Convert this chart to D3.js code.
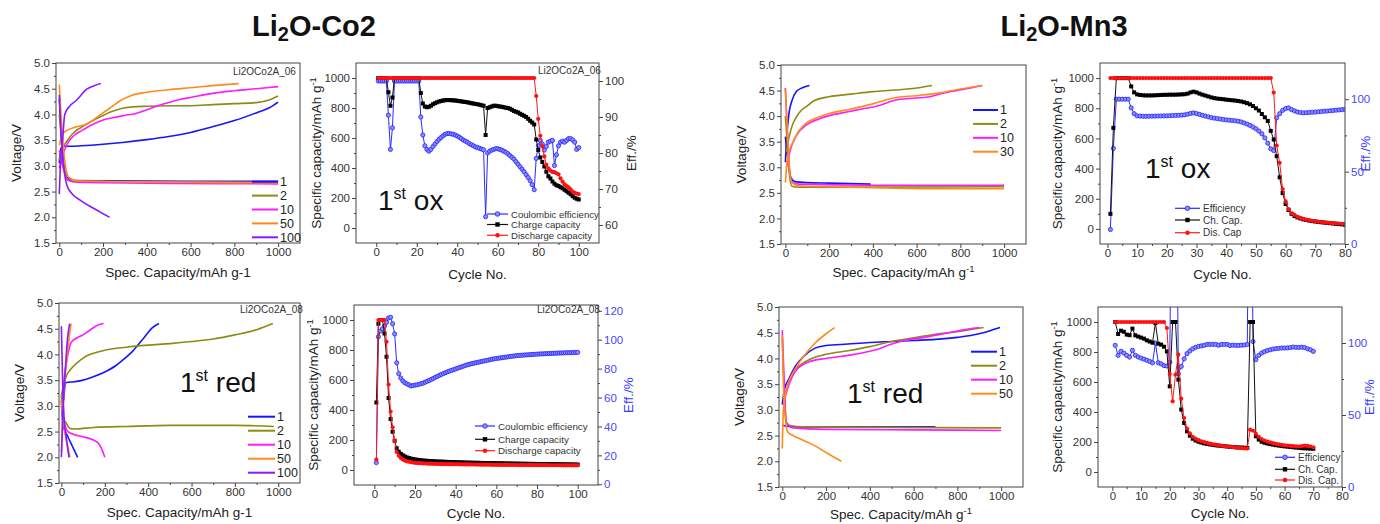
<!DOCTYPE html>
<html><head><meta charset="utf-8">
<script src="https://cdn.jsdelivr.net/npm/d3@7"></script>
<style>body{margin:0;background:#fff} svg{display:block}</style>
</head><body><script>
// ================= DATA =================
const voltTicks=[1.5,2.0,2.5,3.0,3.5,4.0,4.5,5.0];
const capXTicks=[0,200,400,600,800,1000];
const capYTicks=[0,200,400,600,800,1000];
const cycTicks100=[0,20,40,60,80,100];
const cycTicks80=[0,10,20,30,40,50,60,70,80];
const effTicksCo2Ox=[60,70,80,90,100];
const effTicksMn3=[0,50,100];
const effTicksCo2Red=[0,20,40,60,80,100,120];

// Li2O-Co2, 1st ox : voltage profiles [capacity, voltage]
const co2OxCycles=["1","2","10","50","100"];
const co2OxC1Ch=[[0,3.05],[5,3.3],[15,3.38],[50,3.38],[100,3.39],[200,3.42],[300,3.46],[400,3.51],[500,3.57],[600,3.65],[700,3.76],[800,3.88],[900,4.03],[960,4.13],[1000,4.24]];
const co2OxC1Dis=[[0,4.3],[10,3.6],[20,3.0],[35,2.78],[60,2.72],[200,2.71],[600,2.70],[1000,2.70]];
const co2OxC2Ch=[[0,3.1],[10,3.3],[30,3.45],[60,3.62],[120,3.8],[200,3.98],[250,4.07],[300,4.13],[400,4.16],[500,4.17],[600,4.17],[700,4.19],[800,4.21],[900,4.23],[950,4.27],[1000,4.36]];
const co2OxC2Dis=[[0,4.0],[10,3.5],[25,2.9],[40,2.73],[80,2.7],[1000,2.68]];
const co2OxC10Ch=[[0,2.95],[15,3.2],[40,3.45],[70,3.6],[100,3.68],[150,3.8],[200,3.89],[250,3.94],[300,3.98],[350,4.02],[400,4.09],[450,4.17],[500,4.23],[550,4.29],[600,4.33],[700,4.41],[800,4.46],[900,4.5],[1000,4.54]];
const co2OxC10Dis=[[0,3.3],[15,3.0],[40,2.72],[80,2.68],[500,2.66],[1000,2.65]];
const co2OxC50Ch=[[0,3.4],[15,3.62],[40,3.7],[80,3.76],[130,3.82],[180,3.97],[230,4.12],[280,4.27],[330,4.37],[400,4.43],[500,4.48],[600,4.52],[700,4.56],[820,4.6]];
const co2OxC50Dis=[[0,4.58],[8,4.0],[18,3.4],[30,2.95],[45,2.77],[80,2.71],[300,2.69],[1000,2.67]];
const co2OxC100Ch=[[0,2.45],[5,3.0],[15,3.5],[25,4.0],[45,4.15],[80,4.28],[125,4.49],[160,4.56],[190,4.6]];
const co2OxC100Dis=[[0,4.38],[8,3.6],[20,3.0],[35,2.62],[60,2.45],[100,2.32],[150,2.19],[200,2.07],[230,2.0]];

// Li2O-Mn3, 1st ox
const mn3OxCycles=["1","2","10","30"];
const mn3OxC1Ch=[[0,3.1],[8,3.7],[18,4.1],[30,4.3],[50,4.48],[75,4.55],[110,4.6]];
const mn3OxC1Dis=[[0,3.6],[10,3.2],[25,2.8],[45,2.72],[100,2.7],[200,2.69],[390,2.67]];
const mn3OxC2Ch=[[5,3.3],[15,3.55],[30,3.8],[50,3.98],[70,4.1],[100,4.2],[130,4.3],[200,4.38],[300,4.43],[400,4.48],[500,4.51],[600,4.55],[670,4.6]];
const mn3OxC2Dis=[[0,4.0],[10,3.4],[20,2.8],[30,2.63],[60,2.61],[1000,2.62]];
const mn3OxC10Ch=[[5,3.0],[20,3.3],[50,3.62],[100,3.84],[150,3.94],[200,4.01],[280,4.08],[350,4.14],[430,4.21],[500,4.31],[550,4.34],[660,4.38],[720,4.45],[810,4.52],[900,4.6]];
const mn3OxC10Dis=[[0,4.55],[8,3.8],[18,3.0],[30,2.72],[60,2.67],[400,2.65],[1000,2.65]];
const mn3OxC30Ch=[[0,2.7],[10,3.2],[30,3.45],[60,3.7],[100,3.88],[150,3.98],[200,4.05],[300,4.14],[400,4.24],[500,4.36],[600,4.4],[700,4.45],[800,4.53],[900,4.6]];
const mn3OxC30Dis=[[0,4.52],[8,3.8],[18,3.0],[30,2.7],[60,2.64],[200,2.62],[400,2.6],[700,2.58],[1000,2.58]];

// Li2O-Co2, 1st red
const co2RedCycles=["1","2","10","50","100"];
const co2RedC1Ch=[[10,3.1],[20,3.45],[60,3.47],[100,3.5],[150,3.57],[200,3.66],[250,3.78],[280,3.88],[330,4.07],[380,4.32],[420,4.52],[450,4.6]];
const co2RedC1Dis=[[0,3.1],[8,2.62],[30,2.4],[50,2.22],[75,2.0]];
const co2RedC2Ch=[[0,3.2],[10,3.4],[25,3.6],[45,3.72],[100,3.93],[200,4.08],[300,4.14],[400,4.18],[500,4.21],[600,4.25],[700,4.3],[800,4.38],[900,4.48],[975,4.6]];
const co2RedC2Dis=[[0,3.2],[8,2.75],[20,2.68],[40,2.56],[60,2.55],[150,2.58],[300,2.6],[500,2.62],[800,2.62],[980,2.6]];
const co2RedC10Ch=[[5,3.1],[15,3.6],[30,4.0],[45,4.23],[70,4.32],[100,4.38],[140,4.5],[175,4.58],[195,4.6]];
const co2RedC10Dis=[[0,3.0],[15,2.65],[30,2.5],[60,2.44],[100,2.4],[145,2.34],[175,2.25],[190,2.12],[200,2.0]];
const co2RedC50Ch=[[0,2.1],[8,3.0],[20,3.7],[35,4.3],[45,4.6]];
const co2RedC50Dis=[[0,3.1],[15,2.5],[30,2.2],[40,2.0]];
const co2RedC100Ch=[[0,2.0],[8,3.0],[18,3.7],[28,4.3],[38,4.6]];
const co2RedC100Dis=[[0,4.55],[5,3.6],[12,2.8],[22,2.4],[35,2.0]];

// Li2O-Mn3, 1st red
const mn3RedCycles=["1","2","10","50"];
const mn3RedC1Ch=[[0,3.1],[10,3.4],[30,3.6],[60,3.85],[100,4.05],[150,4.2],[200,4.25],[300,4.28],[400,4.31],[500,4.33],[600,4.35],[700,4.37],[800,4.41],[900,4.48],[950,4.54],[995,4.6]];
const mn3RedC1Dis=[[0,2.7],[50,2.67],[700,2.67]];
const mn3RedC2Ch=[[5,3.2],[20,3.4],[60,3.77],[120,3.97],[200,4.08],[300,4.15],[400,4.23],[500,4.33],[600,4.4],[700,4.47],[800,4.52],[920,4.6]];
const mn3RedC2Dis=[[0,4.4],[10,3.3],[20,2.75],[40,2.69],[100,2.67],[1000,2.65]];
const mn3RedC10Ch=[[5,3.1],[20,3.35],[60,3.75],[120,3.93],[200,4.0],[300,4.06],[400,4.14],[450,4.2],[500,4.28],[550,4.34],[650,4.41],[750,4.49],[850,4.57],[900,4.6]];
const mn3RedC10Dis=[[0,4.55],[8,3.6],[18,2.75],[50,2.65],[200,2.62],[600,2.61],[1000,2.6]];
const mn3RedC50Ch=[[0,2.25],[5,3.0],[20,3.4],[60,3.8],[100,4.05],[150,4.3],[200,4.48],[240,4.6]];
const mn3RedC50Dis=[[0,4.45],[5,3.5],[15,2.8],[25,2.57],[50,2.5],[100,2.4],[150,2.3],[200,2.17],[270,2.0]];

// Cycling data (index = cycle number - 1)
const co2OxCharge=[1000,1000,1000,1000,1000,905,815,870,1000,1000,
1000,1000,1000,1000,1000,1000,1000,1000,1000,1000,
1000,900,830,810,805,808,815,825,832,838,
843,847,850,852,853,853,852,851,850,848,
846,844,842,840,838,835,832,830,827,825,
822,818,815,620,800,805,810,815,815,812,
810,808,805,802,800,795,788,780,775,770,
762,755,748,740,728,715,703,690,590,520,
470,440,410,375,345,330,310,295,285,280,
272,265,255,245,235,225,212,202,195,190];
const co2OxDischarge=[1000,1000,1000,1000,1000,1000,1000,1000,1000,1000,
1000,1000,1000,1000,1000,1000,1000,1000,1000,1000,
1000,1000,1000,1000,1000,1000,1000,1000,1000,1000,
1000,1000,1000,1000,1000,1000,1000,1000,1000,1000,
1000,1000,1000,1000,1000,1000,1000,1000,1000,1000,
1000,1000,1000,1000,1000,1000,1000,1000,1000,1000,
1000,1000,1000,1000,1000,1000,1000,1000,1000,1000,
1000,1000,1000,1000,1000,1000,1000,1000,880,727,
615,544,477,421,398,383,374,372,365,358,
331,309,291,280,271,257,242,235,230,226];
const co2OxCE=[100,100,100,100,100,90.5,81,87,100,100,
100,100,100,100,100,100,100,100,100,100,
100,90,85,82,81,80.5,81,81.8,82.5,83.2,
83.8,84.3,84.8,85.2,85.4,85.4,85.3,85.2,85,84.7,
84.4,84,83.6,83.3,83,82.6,82.3,82,81.7,81.5,
81.3,81.1,80.9,62.3,80,80.5,80.8,81,81.2,81.2,
81,80.8,80.5,80.2,79.8,79.3,78.8,78.3,77.6,76.9,
76.2,75.5,74.8,74,73.2,72.3,71.2,69.8,78.5,82,
83.5,82.5,80.8,81.8,83,83.3,83.5,76.5,79.5,82,
83,83.3,83,83.5,84,84,83.6,83,81,81.5];

const mn3OxCharge=[100,670,1000,1000,1000,1000,1000,945,905,892,
888,886,885,885,885,886,887,888,889,889,
890,890,890,891,892,893,897,905,910,905,
897,890,884,878,872,867,864,862,860,857,
855,853,851,848,845,840,834,826,815,800,
785,762,740,716,650,593,482,342,238,165,
125,100,85,76,69,63,59,55,52,49,
46,44,42,40,38,36,34,32,30,28];
const mn3OxDischarge=[1000,1000,1000,1000,1000,1000,1000,1000,1000,1000,
1000,1000,1000,1000,1000,1000,1000,1000,1000,1000,
1000,1000,1000,1000,1000,1000,1000,1000,1000,1000,
1000,1000,1000,1000,1000,1000,1000,1000,1000,1000,
1000,1000,1000,1000,1000,1000,1000,1000,1000,1000,
1000,1000,1000,1000,1000,904,553,438,264,182,
131,104,93,80,72,66,61,57,54,51,
48,46,44,42,40,38,37,36,34,33];
const mn3OxCE=[10,66,100,100,100,100,100,94,90,88.5,
88.3,88.2,88.2,88.2,88.3,88.3,88.4,88.4,88.5,88.5,
88.6,88.7,88.8,88.9,89,89.2,89.6,90.2,90.5,90.1,
89.5,88.9,88.3,87.8,87.3,86.9,86.6,86.3,86,85.7,
85.5,85.3,85.1,84.8,84.3,83.6,82.8,81.9,80.8,79.6,
78,76.1,73.3,69.6,65.7,64.5,87.2,90,92.3,93.5,
94,92.8,91.9,91.2,90.8,90.6,90.7,90.8,91,91.1,
91.3,91.5,91.7,91.8,92,92.2,92.4,92.6,92.8,93];

const co2RedCharge=[450,975,1000,1000,910,755,480,340,255,195,
145,122,108,98,90,84,80,76,73,70,
68,66,64,63,62,61,60,59,58,57,
56.5,56,55.5,55,54.5,54,53.5,53,52.5,52,
51.5,51,50.5,50,49.5,49,48.8,48.5,48.2,48,
47.7,47.4,47.1,46.8,46.5,46.2,46,45.7,45.4,45.1,
44.8,44.5,44.2,44,43.7,43.4,43.1,42.8,42.5,42.2,
42,41.8,41.6,41.4,41.2,41,40.8,40.6,40.4,40.2,
40,39.8,39.6,39.4,39.2,39,38.8,38.6,38.4,38.2,
38,37.8,37.6,37.4,37.2,37,36.8,36.6,36.4,36.2];
const co2RedDischarge=[70,1000,1000,1000,1000,855,570,390,285,195,
120,95,80,70,63,58,55,52,50,48,
47,46,45,44,43.5,43,42.5,42,41.5,41,
40.5,40,39.8,39.6,39.4,39.2,39,38.8,38.6,38.4,
38.2,38,37.8,37.6,37.4,37.2,37,36.8,36.6,36.4,
36.2,36,35.8,35.6,35.4,35.2,35,34.8,34.6,34.4,
34.2,34,33.9,33.8,33.7,33.6,33.5,33.4,33.3,33.2,
33.1,33,32.9,32.8,32.7,32.6,32.5,32.4,32.3,32.2,
32.1,32,32,31.9,31.9,31.8,31.8,31.7,31.7,31.6,
31.6,31.5,31.5,31.4,31.4,31.3,31.3,31.2,31.2,31.1];
const co2RedCE=[15,102,106,107.5,109.5,112,115,115.5,111,104,
84,76.5,73.5,71.5,70.2,69.5,68.8,68,68.3,68.6,
68.8,69.2,69.6,70,70.6,71.2,71.8,72.5,73.2,74,
74.6,75.3,76,76.6,77.2,77.8,78.3,78.8,79.3,79.8,
80.3,80.8,81.3,81.8,82.3,82.7,83.1,83.5,83.8,84.1,
84.4,84.7,85,85.3,85.6,85.9,86.2,86.5,86.8,87,
87.2,87.4,87.6,87.8,88,88.2,88.4,88.6,88.8,89,
89.1,89.2,89.3,89.4,89.5,89.6,89.7,89.8,89.9,90,
90.1,90.2,90.2,90.3,90.4,90.4,90.5,90.6,90.6,90.7,
90.8,90.8,90.9,90.9,91,91,91.1,91.1,91.2,91.2];

const mn3RedCharge=[1000,920,942,935,916,912,956,911,903,896,
889,878,870,862,993,855,849,835,804,571,
1000,1000,616,416,327,271,242,222,210,202,
196,191,187,184,181,178,176,174,172,170,
168,167,165,164,163,162,160,1000,1000,238,
216,202,195,190,186,182,179,176,173,171,
169,167,165,163,161,159,158,157,156,155];
const mn3RedDischarge=[1000,1000,1000,1000,1000,1000,1000,1000,1000,1000,
1000,1000,1000,1000,1000,1000,1000,1000,960,653,
471,649,782,489,360,290,258,235,222,212,
205,199,194,189,185,182,178,175,172,170,
168,166,163,161,159,157,156,282,275,255,
235,220,210,203,197,192,188,184,181,178,
176,174,172,171,170,172,176,174,170,165];
const mn3RedCE=[98.4,91.4,94.2,93,91.4,90.2,94.9,91.5,90.3,89.5,
88.8,88,87.2,86.2,100,86.3,85.5,84.3,84,86.7,
300,300,78.6,83.7,89,92.6,94.5,96,97,97.6,
98,98.4,99,99,99,99,98.5,99,99,99,
98.2,98.5,98.3,98.3,98.5,98.6,99,300,101,88.4,
91.4,93,94,94.8,95.3,95.8,96.1,96.3,96.5,96.5,
96.6,96.8,97.2,97,96.9,97.1,96.8,96,95.3,94.2];

// ================= DRAWING =================
const FONT='"Liberation Sans", Arial, Helvetica, sans-serif';
const AX='#444', TXT='#333', BLUEAX='#4848ff';
const COL={"1":"#1515ff","2":"#8c8c14","10":"#ff1aff","30":"#ff8a1a","50":"#ff8a1a","100":"#8a1aff"};
const svg=d3.select("body").append("svg").attr("width",1380).attr("height",524);
let clipN=0;

function mkClip(f){
  const id="clip"+(clipN++);
  svg.append("clipPath").attr("id",id).append("rect")
    .attr("x",f.l).attr("y",f.t).attr("width",f.r-f.l).attr("height",f.b-f.t);
  return "url(#"+id+")";
}
function addAxis(scale,orient,pos,major,minor,fmt,color){
  const gen=orient==="left"?d3.axisLeft:orient==="right"?d3.axisRight:d3.axisBottom;
  const tr=orient==="bottom"?`translate(0,${pos})`:`translate(${pos},0)`;
  const a=svg.append("g").attr("transform",tr)
    .call(gen(scale).tickValues(major).tickSize(4).tickSizeOuter(0).tickPadding(orient==="bottom"?1:2).tickFormat(fmt));
  a.select(".domain").remove();
  a.selectAll("line").attr("stroke",AX);
  a.selectAll("text").attr("fill",color||TXT).style("font-size","11.5px").style("font-family",FONT);
  if(minor){
    const m=svg.append("g").attr("transform",tr)
      .call(gen(scale).tickValues(minor).tickSize(2).tickSizeOuter(0).tickFormat(""));
    m.select(".domain").remove(); m.selectAll("line").attr("stroke",AX);
  }
}
function box(f){
  svg.append("rect").attr("x",f.l).attr("y",f.t).attr("width",f.r-f.l).attr("height",f.b-f.t)
    .attr("fill","none").attr("stroke",AX).attr("stroke-width",1);
}
function txt(x,y,s,fs,color,anchor){
  return svg.append("text").attr("x",x).attr("y",y).text(s).attr("fill",color||TXT)
    .attr("text-anchor",anchor||"start").style("font-size",fs+"px").style("font-family",FONT);
}
function vtitle(x,y,main,sup,color,fs){
  const t=svg.append("text").attr("transform",`translate(${x},${y}) rotate(-90)`).attr("text-anchor","middle")
    .attr("fill",color||"#222").style("font-size",fs+"px").style("font-family",FONT);
  t.append("tspan").text(main);
  if(sup) t.append("tspan").text(sup).attr("dy",-5).style("font-size",(fs*0.7)+"px");
}
function htitle(x,y,main,sup,fs){
  const t=svg.append("text").attr("x",x).attr("y",y).attr("text-anchor","middle")
    .attr("fill","#222").style("font-size",fs+"px").style("font-family",FONT);
  t.append("tspan").text(main);
  if(sup) t.append("tspan").text(sup).attr("dy",-5).style("font-size",(fs*0.7)+"px");
}
function bigLabel(x,y,sup,word){
  const t=svg.append("text").attr("x",x).attr("y",y).attr("fill","#111").style("font-size","28px").style("font-family",FONT);
  t.append("tspan").text("1");
  t.append("tspan").text(sup).attr("dy",-11).style("font-size","16px");
  t.append("tspan").text(word).attr("dy",11);
}

function voltagePanel(f,xd,curves,leg,xTitle,xSup,sample,xTitleY){
  const x=d3.scaleLinear().domain(xd).range([f.l,f.r]);
  const y=d3.scaleLinear().domain([1.5,5.0]).range([f.b,f.t]);
  const clip=mkClip(f);
  const line=d3.line().x(d=>x(d[0])).y(d=>y(d[1])).curve(d3.curveMonotoneX);
  const g=svg.append("g").attr("clip-path",clip);
  curves.forEach(c=>{
    [c.dis,c.ch].forEach(arr=>{
      g.append("path").datum(arr).attr("d",line).attr("fill","none")
        .attr("stroke",COL[c.name]).attr("stroke-width",1.6);
    });
  });
  addAxis(x,"bottom",f.b,capXTicks,[100,300,500,700,900],d3.format("d"));
  addAxis(y,"left",f.l,voltTicks,[1.75,2.25,2.75,3.25,3.75,4.25,4.75],d3.format(".1f"));
  box(f);
  curves.forEach((c,i)=>{
    const yy=leg.y0+i*leg.dy;
    svg.append("line").attr("x1",leg.x1).attr("x2",leg.x2).attr("y1",yy).attr("y2",yy)
      .attr("stroke",COL[c.name]).attr("stroke-width",2);
    txt(leg.x2+2,yy+4.3,c.name,12.5,"#222");
  });
  vtitle(f.l-35,(f.t+f.b)/2,"Voltage/V",null,"#222",13.5);
  htitle((f.l+f.r)/2,xTitleY,xTitle,xSup,13.5);
  if(sample) txt(sample.x,sample.y,sample.s,10,"#333");
}

function sqSym(g,pts,x,y,color){
  g.selectAll(null).data(pts).enter().append("rect")
    .attr("x",d=>x(d[0])-2).attr("y",d=>y(d[1])-2).attr("width",4).attr("height",4).attr("fill",color);
}
function cirSym(g,pts,x,y,fill,stroke){
  g.selectAll(null).data(pts).enter().append("circle")
    .attr("cx",d=>x(d[0])).attr("cy",d=>y(d[1])).attr("r",2.1).attr("fill",fill)
    .attr("stroke",stroke||"none").attr("stroke-width",0.8);
}

function cyclePanel(o){
  const f=o.f;
  const x=d3.scaleLinear().domain(o.xd).range([f.l,f.r]);
  const y=d3.scaleLinear().domain([-100,1100]).range([f.b,f.t]);
  const yr=d3.scaleLinear().domain(o.rd).range([f.b,f.t]);
  const clip=mkClip(f);
  const g=svg.append("g").attr("clip-path",clip);
  const toPts=arr=>arr.map((v,i)=>[i+1,v]);
  const ce=toPts(o.ce), ch=toPts(o.ch), dis=toPts(o.dis);
  const lineL=d3.line().x(d=>x(d[0])).y(d=>y(d[1]));
  const lineR=d3.line().x(d=>x(d[0])).y(d=>yr(d[1]));
  g.append("path").datum(ce).attr("d",lineR).attr("fill","none").attr("stroke","#2b2bff").attr("stroke-width",1);
  cirSym(g,ce,x,yr,"#8c8cff","#2222ff");
  g.append("path").datum(ch).attr("d",lineL).attr("fill","none").attr("stroke","#111").attr("stroke-width",1);
  sqSym(g,ch,x,y,"#000");
  g.append("path").datum(dis).attr("d",lineL).attr("fill","none").attr("stroke","#ff1a1a").attr("stroke-width",1);
  cirSym(g,dis,x,y,"#ff1111");
  addAxis(x,"bottom",f.b,o.xt,o.xm,d3.format("d"));
  addAxis(y,"left",f.l,capYTicks,[100,300,500,700,900],d3.format("d"));
  addAxis(yr,"right",f.r,o.rt,o.rm,d3.format("d"),o.rColor);
  box(f);
  const L=o.leg;
  const items=[["ce",o.names[0]],["ch",o.names[1]],["dis",o.names[2]]];
  items.forEach((it,i)=>{
    const yy=L.ys[i], mx=(L.x1+L.x2)/2;
    const c=it[0]==="ce"?"#2b2bff":it[0]==="ch"?"#111":"#ff1a1a";
    svg.append("line").attr("x1",L.x1).attr("x2",L.x2).attr("y1",yy).attr("y2",yy).attr("stroke",c).attr("stroke-width",1.2);
    if(it[0]==="ch") svg.append("rect").attr("x",mx-2.2).attr("y",yy-2.2).attr("width",4.4).attr("height",4.4).attr("fill","#000");
    else svg.append("circle").attr("cx",mx).attr("cy",yy).attr("r",2.3)
      .attr("fill",it[0]==="ce"?"#8c8cff":"#ff1111").attr("stroke",it[0]==="ce"?"#2222ff":"none").attr("stroke-width",0.8);
    txt(L.x2+3,yy+3.5,it[1],L.fs,"#333");
  });
  vtitle(o.lt.x,(f.t+f.b)/2,"Specific capacity/mAh g","-1","#222",13.5);
  vtitle(o.rtl.x,(f.t+f.b)/2,"Eff./%",null,o.rTitleColor,13.5);
  htitle((f.l+f.r)/2,o.xTitleY,"Cycle No.",null,13.5);
  if(o.sample) txt(o.sample.x,o.sample.y,o.sample.s,10,"#333");
}

function mainTitle(cx,a,b){
  const t=svg.append("text").attr("x",cx).attr("y",36).attr("text-anchor","middle").attr("fill","#111")
    .style("font-size","29px").style("font-weight","bold").style("font-family",FONT);
  t.append("tspan").text(a);
  t.append("tspan").text("2").attr("dy",5).style("font-size","20px");
  t.append("tspan").text(b).attr("dy",-5);
}
mainTitle(314,"Li","O-Co2");
mainTitle(1064,"Li","O-Mn3");

// ---- Panel 1: Co2 ox voltage ----
voltagePanel({l:56,r:300,t:63,b:243},[-15,1100],[
  {name:"1",ch:co2OxC1Ch,dis:co2OxC1Dis},
  {name:"2",ch:co2OxC2Ch,dis:co2OxC2Dis},
  {name:"10",ch:co2OxC10Ch,dis:co2OxC10Dis},
  {name:"50",ch:co2OxC50Ch,dis:co2OxC50Dis},
  {name:"100",ch:co2OxC100Ch,dis:co2OxC100Dis}],
  {x1:252,x2:278,y0:181.7,dy:13.9},"Spec. Capacity/mAh g-1",null,{x:233,y:75,s:"Li2OCo2A_06"},277);

// ---- Panel 2: Co2 ox cycling ----
cyclePanel({f:{l:356,r:599,t:63,b:243},xd:[-10,110],rd:[55,105],
  ce:co2OxCE,ch:co2OxCharge,dis:co2OxDischarge,
  xt:cycTicks100,xm:[10,30,50,70,90],rt:effTicksCo2Ox,rm:[65,75,85,95],rColor:TXT,rTitleColor:"#222",
  leg:{x1:487,x2:508,ys:[214,224.5,235.3],fs:9.6},names:["Coulombic efficiency","Charge capacity","Discharge capacity"],
  lt:{x:321},rtl:{x:636},sample:{x:538,y:74,s:"Li2OCo2A_06"},xTitleY:279});
bigLabel(378,210,"st"," ox");

// ---- Panel 3: Mn3 ox voltage ----
voltagePanel({l:781,r:1026,t:65,b:244},[-20,1100],[
  {name:"1",ch:mn3OxC1Ch,dis:mn3OxC1Dis},
  {name:"2",ch:mn3OxC2Ch,dis:mn3OxC2Dis},
  {name:"10",ch:mn3OxC10Ch,dis:mn3OxC10Dis},
  {name:"30",ch:mn3OxC30Ch,dis:mn3OxC30Dis}],
  {x1:973,x2:998,y0:110,dy:13.9},"Spec. Capacity/mAh g","-1",null,277);

// ---- Panel 4: Mn3 ox cycling ----
cyclePanel({f:{l:1100,r:1345,t:63,b:244},xd:[-2.5,80],rd:[0,125],
  ce:mn3OxCE,ch:mn3OxCharge,dis:mn3OxDischarge,
  xt:cycTicks80,xm:[5,15,25,35,45,55,65,75],rt:effTicksMn3,rm:[25,75],rColor:BLUEAX,rTitleColor:"#3a3aff",
  leg:{x1:1175,x2:1200,ys:[208.3,220,232.7],fs:10},names:["Efficiency","Ch. Cap.","Dis. Cap"],
  lt:{x:1062},rtl:{x:1370},sample:null,xTitleY:279});
bigLabel(1145,178,"st"," ox");

// ---- Panel 5: Co2 red voltage ----
voltagePanel({l:59,r:300,t:303,b:483},[-11,1100],[
  {name:"1",ch:co2RedC1Ch,dis:co2RedC1Dis},
  {name:"2",ch:co2RedC2Ch,dis:co2RedC2Dis},
  {name:"10",ch:co2RedC10Ch,dis:co2RedC10Dis},
  {name:"50",ch:co2RedC50Ch,dis:co2RedC50Dis},
  {name:"100",ch:co2RedC100Ch,dis:co2RedC100Dis}],
  {x1:248,x2:275,y0:416.7,dy:14},"Spec. Capacity/mAh g-1",null,{x:240,y:313,s:"Li2OCo2A_08"},517);
bigLabel(180,392,"st"," red");

// ---- Panel 6: Co2 red cycling ----
cyclePanel({f:{l:354,r:598,t:305,b:485},xd:[-10,110],rd:[-0.5,124],
  ce:co2RedCE,ch:co2RedCharge,dis:co2RedDischarge,
  xt:cycTicks100,xm:[10,30,50,70,90],rt:effTicksCo2Red,rm:[10,30,50,70,90,110],rColor:BLUEAX,rTitleColor:"#3a3aff",
  leg:{x1:475,x2:495,ys:[426,439.3,450.7],fs:9.8},names:["Coulombic efficiency","Charge capacity","Discharge capacity"],
  lt:{x:318},rtl:{x:633},sample:{x:537,y:313,s:"Li2OCo2A_08"},xTitleY:518});

// ---- Panel 7: Mn3 red voltage ----
voltagePanel({l:779,r:1023,t:307,b:487},[-15,1100],[
  {name:"1",ch:mn3RedC1Ch,dis:mn3RedC1Dis},
  {name:"2",ch:mn3RedC2Ch,dis:mn3RedC2Dis},
  {name:"10",ch:mn3RedC10Ch,dis:mn3RedC10Dis},
  {name:"50",ch:mn3RedC50Ch,dis:mn3RedC50Dis}],
  {x1:971,x2:997,y0:351.7,dy:14},"Spec. Capacity/mAh g","-1",null,519);
bigLabel(847,403,"st"," red");

// ---- Panel 8: Mn3 red cycling ----
cyclePanel({f:{l:1098,r:1342,t:307,b:487},xd:[-5,80],rd:[0,125],
  ce:mn3RedCE,ch:mn3RedCharge,dis:mn3RedDischarge,
  xt:cycTicks80,xm:[5,15,25,35,45,55,65,75],rt:effTicksMn3,rm:[25,75],rColor:BLUEAX,rTitleColor:"#3a3aff",
  leg:{x1:1275,x2:1295,ys:[457.3,469.3,480],fs:10},names:["Efficiency","Ch. Cap.","Dis. Cap."],
  lt:{x:1062},rtl:{x:1374},sample:null,xTitleY:518});
</script></body></html>
